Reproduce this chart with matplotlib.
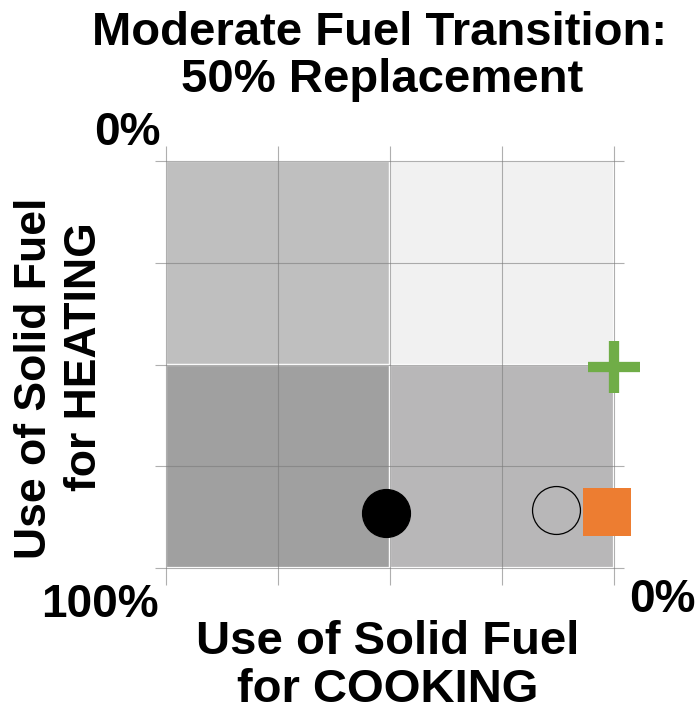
import matplotlib
matplotlib.use('Agg')
import matplotlib.pyplot as plt
from matplotlib.patches import Rectangle

# quadrants: (cooking range, heating range, colour)
quad_cooking = [(50, 100), (0, 50), (50, 100), (0, 50)]
quad_heating = [(0, 50), (0, 50), (50, 100), (50, 100)]
quad_colors = ['#bfbfbf', '#f1f1f1', '#a0a0a0', '#b8b7b8']

# scenario markers
pt_cooking = [51.0, 13.0, 1.6, 0.0]
pt_heating = [86.4, 85.8, 86.2, 50.6]
pt_marker = ['o', 'o', 's', '+']
pt_face = ['black', 'none', '#ed7d31', '#70ad47']
pt_edge = ['black', 'black', '#ed7d31', '#70ad47']

grid_ticks = [0, 25, 50, 75, 100]

fam = ['Liberation Sans', 'DejaVu Sans']

fig = plt.figure(figsize=(7, 7.14), dpi=100)
ax = fig.add_axes([143.6 / 700, 125.65 / 714, 492.8 / 700, 447.7 / 714])
ax.set_xlim(105, -5)
ax.set_ylim(105, -5)
ax.axis('off')

for (c0, c1), (h0, h1), col in zip(quad_cooking, quad_heating, quad_colors):
    ax.add_patch(Rectangle((c0, h0), c1 - c0, h1 - h0, facecolor=col,
                           edgecolor='white', linewidth=1.6, zorder=1))

ax.vlines(grid_ticks, -3.7, 104.2, color='#7b7b7b', alpha=0.6, linewidth=0.8, zorder=2)
ax.hlines(grid_ticks, 102.5, -2.2, color='#7b7b7b', alpha=0.6, linewidth=0.8, zorder=2)

for x, y, m, fc, ec in zip(pt_cooking, pt_heating, pt_marker, pt_face, pt_edge):
    if m == '+':
        ax.plot(x, y, marker='+', markersize=37, markeredgewidth=7.4,
                color=ec, linestyle='none', zorder=3, clip_on=False)
    elif m == 's':
        ax.plot(x, y, marker='s', markersize=34.5, markerfacecolor=fc,
                markeredgewidth=0, linestyle='none', zorder=3, clip_on=False)
    else:
        ax.plot(x, y, marker='o', markersize=34.5, markerfacecolor=fc,
                markeredgecolor=ec, markeredgewidth=0.9, linestyle='none',
                zorder=3, clip_on=False)

def ftext(x, y, s, size, **kw):
    fig.text(x / 700, 1 - y / 714, s, fontsize=size, fontweight='bold',
             family=fam, ha='center', va='center', **kw)

ftext(380, 33, 'Moderate Fuel Transition:', 34)
ftext(382, 80, '50% Replacement', 34)
ftext(127, 133, '0%', 33)
ftext(100, 605, '100%', 33)
ftext(662, 600, '0%', 33)
ftext(388, 642, 'Use of Solid Fuel', 34)
ftext(388, 690, 'for COOKING', 34)
ftext(35, 378, 'Use of Solid Fuel', 32, rotation=90)
ftext(85, 357, 'for HEATING', 32, rotation=90)

fig.savefig('out.png', dpi=100)
